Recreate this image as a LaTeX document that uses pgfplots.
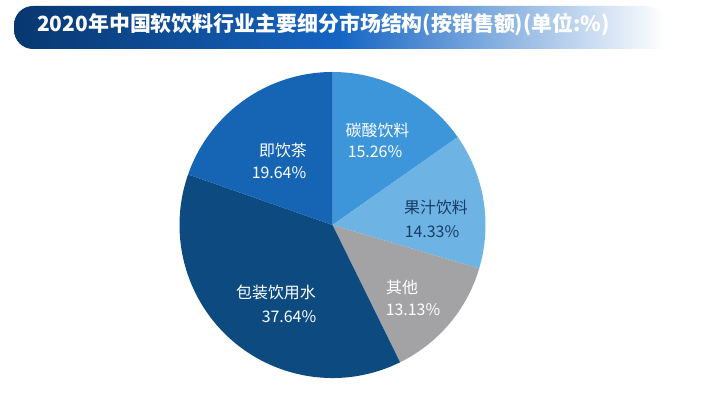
\documentclass[border=0pt]{standalone}
\usepackage{pgfplots}
\pgfplotsset{compat=1.18}
\usepackage{fontspec}
\setmainfont{Noto Sans CJK SC}
\definecolor{cTan}{HTML}{3D95DA}
\definecolor{cGuo}{HTML}{6DB4E4}
\definecolor{cQi}{HTML}{A3A3A6}
\definecolor{cBao}{HTML}{0D4A80}
\definecolor{cCha}{HTML}{1565B4}
\definecolor{cNavyTxt}{HTML}{1B3A66}
\definecolor{bL}{HTML}{08376F}
\definecolor{bM}{HTML}{1565C4}
% data (share, %)
\def\vTan{15.26}
\def\vGuo{14.33}
\def\vQi{13.13}
\def\vBao{37.64}
\def\vCha{19.64}
\pgfmathsetmacro{\aA}{90}
\pgfmathsetmacro{\aB}{\aA-3.6*\vTan}
\pgfmathsetmacro{\aC}{\aB-3.6*\vGuo}
\pgfmathsetmacro{\aD}{\aC-3.6*\vQi}
\pgfmathsetmacro{\aE}{\aD-3.6*\vBao}
\pgfmathsetmacro{\aF}{\aE-3.6*\vCha}
\def\cx{332.5}
\def\cy{174}
\def\R{153bp}
\begin{document}
\begin{tikzpicture}
\fill[white] (0,0) rectangle (705bp,399bp);
\begin{axis}[at={(0,0)},anchor=south west,x=1bp,y=1bp,xmin=0,xmax=705,ymin=0,ymax=399,
  hide axis,scale only axis,clip=false]
% banner
\shade[left color=bL,right color=white,middle color=bM,rounded corners=19bp]
  (axis cs:14,350) -- (axis cs:14,393) -- (axis cs:665,393) [sharp corners] -- (axis cs:665,350) [rounded corners=19bp] -- cycle;
\node[anchor=base west,text=white,font=\bfseries\fontsize{21}{24}\selectfont,inner sep=0pt]
  at (axis cs:37,367) {2020年中国软饮料行业主要细分市场结构(按销售额)(单位:\%)};
% pie
\fill[cTan] (axis cs:\cx,\cy) -- ++(\aA:\R) arc[start angle=\aA,end angle=\aB,radius=\R] -- cycle;
\fill[cGuo] (axis cs:\cx,\cy) -- ++(\aB:\R) arc[start angle=\aB,end angle=\aC,radius=\R] -- cycle;
\fill[cQi] (axis cs:\cx,\cy) -- ++(\aC:\R) arc[start angle=\aC,end angle=\aD,radius=\R] -- cycle;
\fill[cBao] (axis cs:\cx,\cy) -- ++(\aD:\R) arc[start angle=\aD,end angle=\aE,radius=\R] -- cycle;
\fill[cCha] (axis cs:\cx,\cy) -- ++(\aE:\R) arc[start angle=\aE,end angle=\aF,radius=\R] -- cycle;
% labels
\tikzset{lab/.style={font=\fontsize{16}{18}\selectfont,inner sep=0pt,anchor=center}}
\node[lab,text=white] at (axis cs:377.5,269) {碳酸饮料};
\node[lab,text=white] at (axis cs:375,247) {\vTan\%};
\node[lab,text=cNavyTxt] at (axis cs:436,192) {果汁饮料};
\node[lab,text=cNavyTxt] at (axis cs:432,167) {\vGuo\%};
\node[lab,text=white] at (axis cs:402,112) {其他};
\node[lab,text=white] at (axis cs:413,89) {\vQi\%};
\node[lab,text=white] at (axis cs:276,107) {包装饮用水};
\node[lab,text=white] at (axis cs:289,82) {\vBao\%};
\node[lab,text=white] at (axis cs:283,249) {即饮茶};
\node[lab,text=white] at (axis cs:279,226) {\vCha\%};
\end{axis}
\end{tikzpicture}
\end{document}
